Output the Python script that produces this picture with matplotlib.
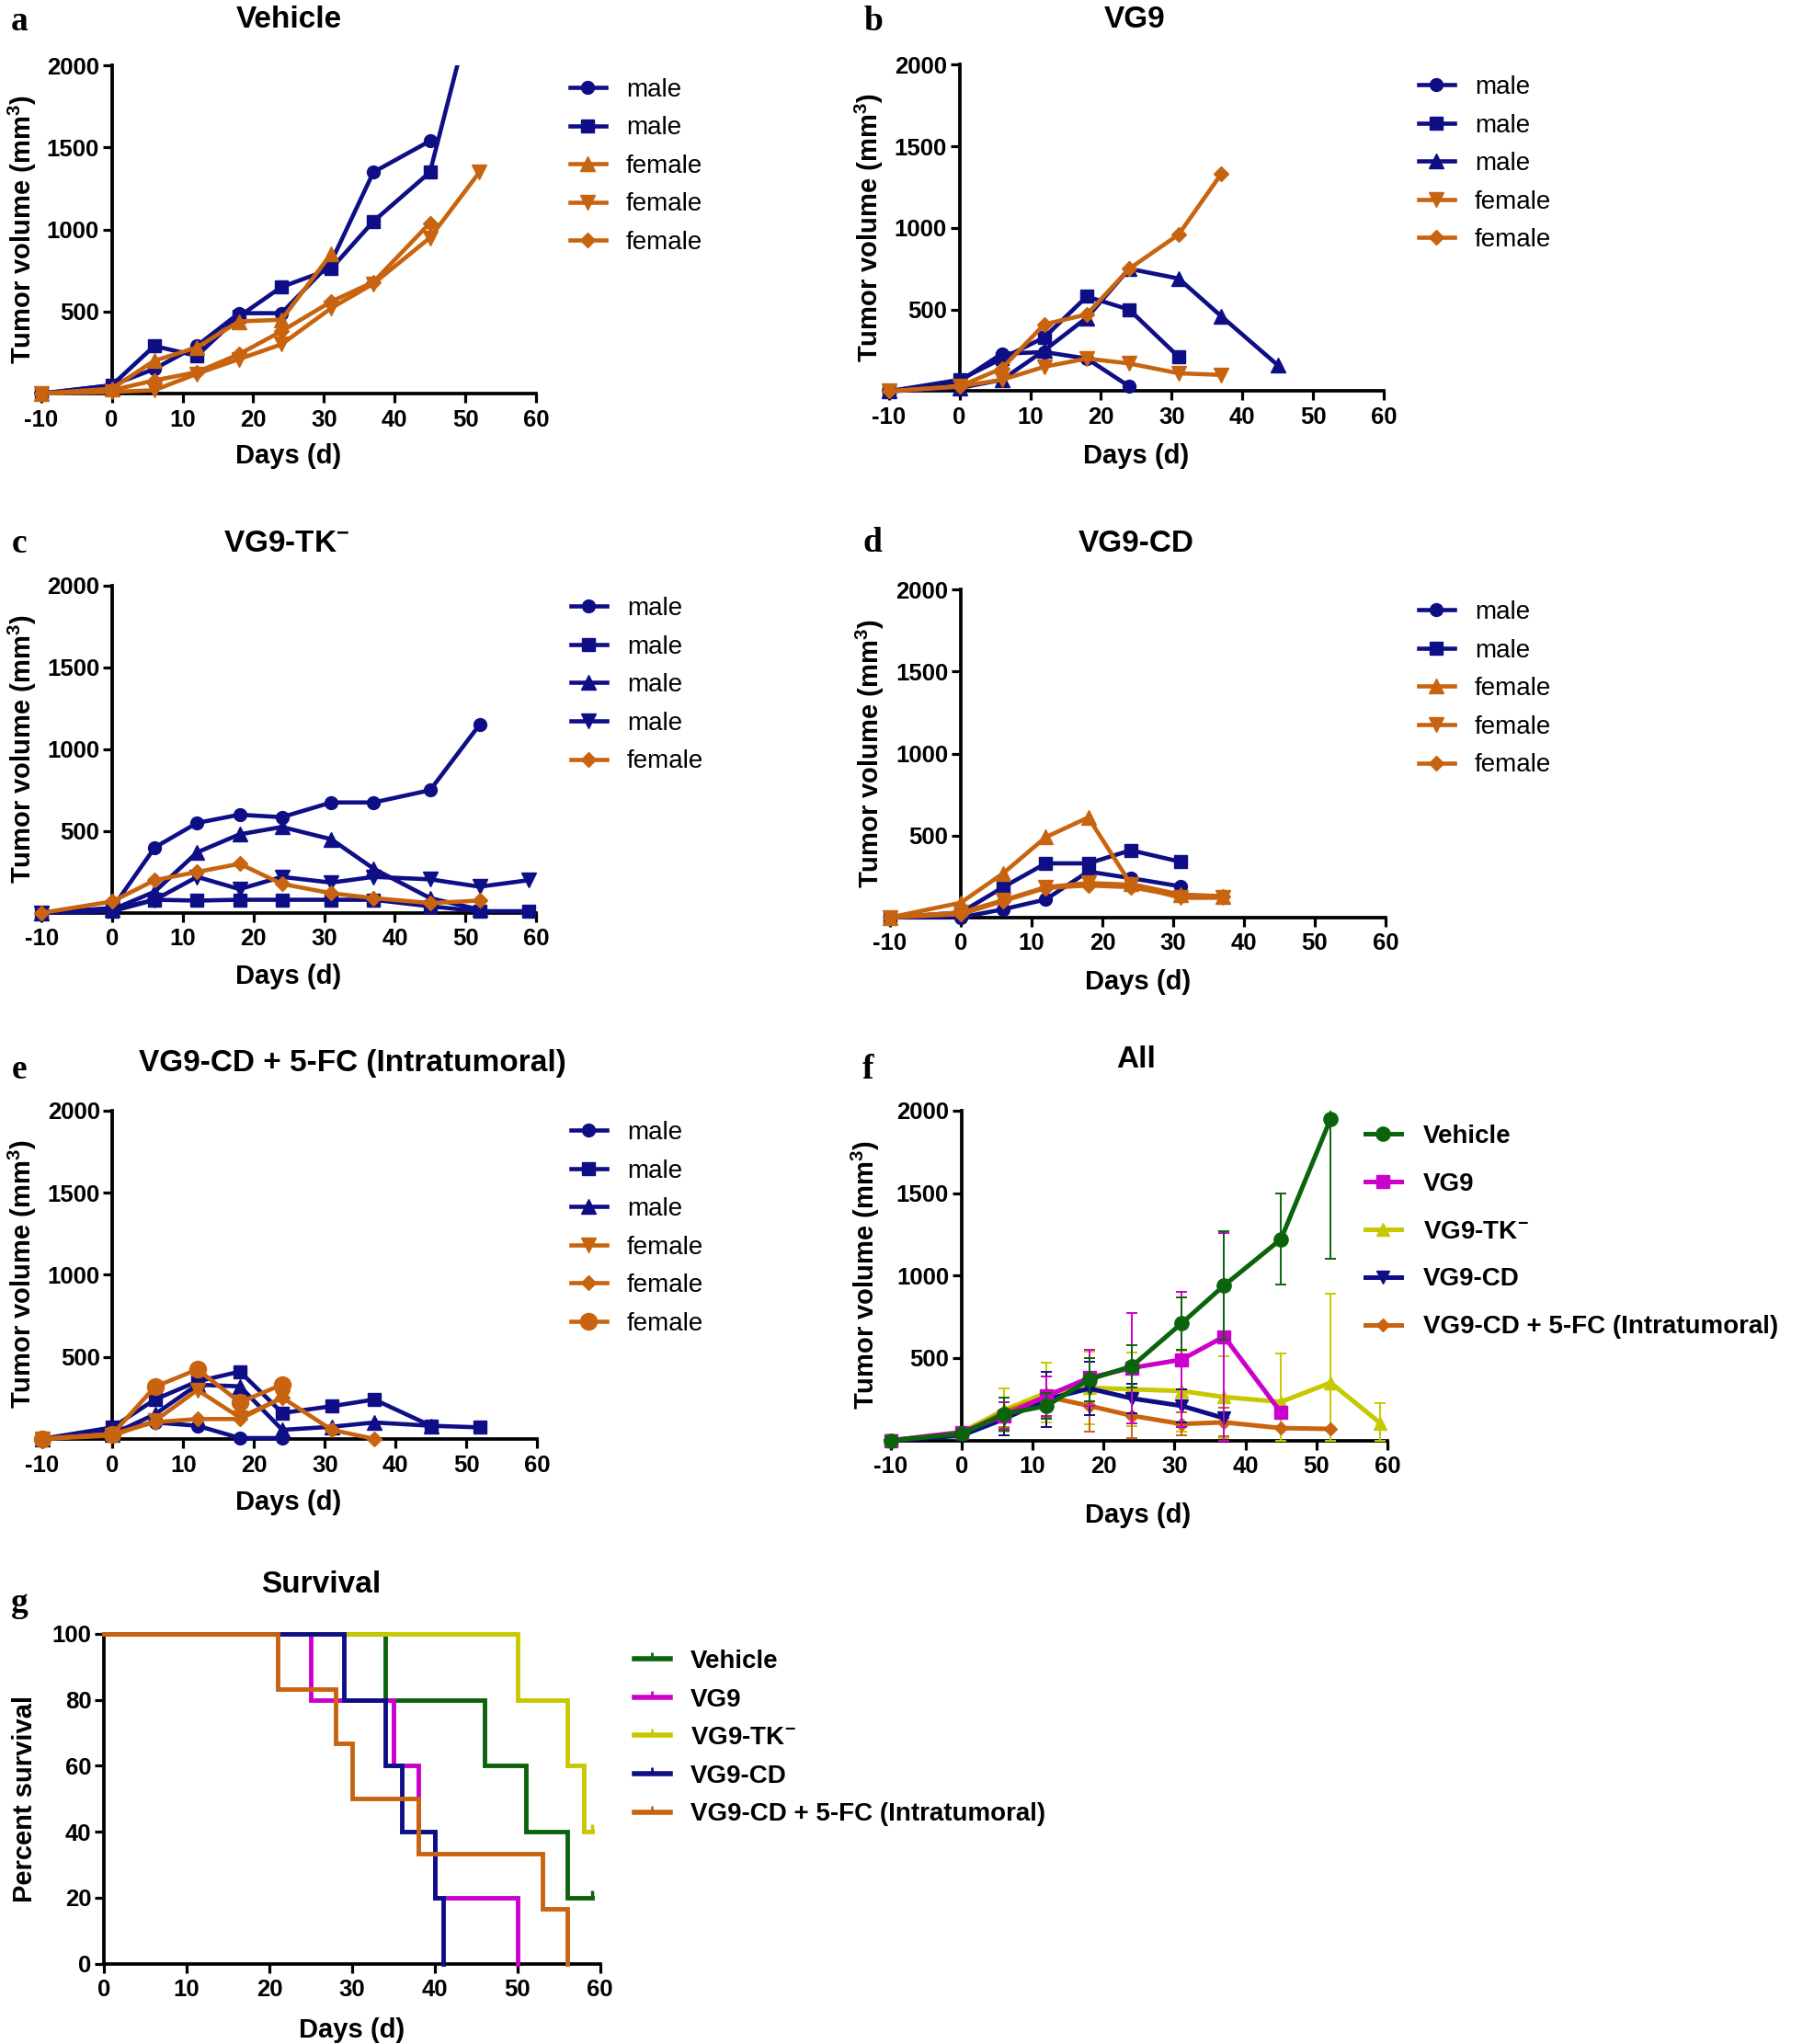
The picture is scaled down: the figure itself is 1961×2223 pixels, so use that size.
import matplotlib
matplotlib.use("Agg")
import matplotlib.pyplot as plt
import numpy as np
from matplotlib.lines import Line2D
from matplotlib.path import Path

W, H = 1961, 2223

NAVY = "#0e0e86"
ORANGE = "#c8640f"
GREEN = "#0b640b"
MAGENTA = "#cc00cc"
YELLOW = "#c8c800"

plt.rcParams["font.family"] = ["Liberation Sans", "DejaVu Sans"]
plt.rcParams["font.weight"] = "bold"
plt.rcParams["axes.unicode_minus"] = False
plt.rcParams["mathtext.fontset"] = "custom"
plt.rcParams["mathtext.rm"] = "Liberation Sans:bold"
plt.rcParams["mathtext.bf"] = "Liberation Sans:bold"
plt.rcParams["mathtext.default"] = "bf"

# --- data ---------------------------------------------------------------
days = [-10, 0, 6, 12, 18, 24, 31, 37, 45, 52, 59]

# a - Vehicle
veh_m1 = [0, 50, 150, 290, 490, 490, 800, 1350, 1540]
veh_m2 = [0, 50, 290, 230, 470, 650, 760, 1050, 1350, 2530]
veh_f1 = [0, 30, 200, 280, 440, 450, 850]
veh_f2 = [0, 10, 20, 120, 210, 300, 520, 670, 950, 1350]
veh_f3 = [0, 20, 80, 130, 240, 380, 560, 680, 1040]

# b - VG9
vg9_m1 = [0, 60, 230, 240, 200, 30]
vg9_m2 = [0, 70, 200, 330, 580, 500, 210]
vg9_m3 = [0, 20, 70, 250, 450, 750, 690, 460, 160]
vg9_f1 = [0, 30, 70, 150, 200, 170, 110, 100]
vg9_f2 = [0, 30, 140, 410, 470, 750, 960, 1330]

# c - VG9-TK-
tk_m1 = [0, 30, 400, 550, 600, 585, 675, 675, 750, 1150]
tk_m2 = [0, 10, 80, 75, 80, 80, 80, 80, 40, 10, 10]
tk_m3 = [0, 20, 130, 370, 480, 525, 450, 270, 90, 20]
tk_m4 = [0, 20, 80, 220, 145, 220, 185, 220, 205, 160, 200]
tk_f1 = [0, 70, 200, 250, 300, 177, 120, 90, 60, 75]

# d - VG9-CD
cd_m1 = [0, 0, 50, 110, 280, 240, 190]
cd_m2 = [0, 30, 185, 330, 330, 410, 340]
cd_f1 = [0, 90, 270, 490, 610, 205, 140, 130]
cd_f2 = [0, 30, 105, 185, 210, 200, 120, 120]
cd_f3 = [0, 20, 100, 180, 195, 185, 130, 130]

# e - VG9-CD + 5-FC
fc_m1 = [0, 50, 100, 80, 5, 5]
fc_m2 = [0, 70, 240, 350, 410, 158, 199, 240, 80, 70]
fc_m3 = [0, 30, 150, 330, 320, 55, 74, 100, 80]
fc_f1 = [0, 20, 110, 298, 130, 250]
fc_f2 = [0, 30, 102, 121, 121, 251, 55, 0]
fc_f3 = [0, 30, 318, 423, 223, 331]

# f - group means and SEM
all_veh_mean = [0, 40, 160, 210, 370, 450, 710, 940, 1220, 1950]
all_veh_sem = [0, 10, 100, 80, 130, 130, 160, 330, 275, 850]
all_vg9_mean = [0, 50, 150, 270, 380, 440, 490, 630, 170]
all_vg9_sem = [0, 15, 80, 120, 170, 335, 410, 630, 0]
all_tk_mean = [0, 50, 185, 290, 320, 310, 300, 263, 234, 350, 105]
all_tk_sem = [0, 10, 130, 182, 220, 225, 245, 246, 294, 542, 120]
all_cd_mean = [0, 30, 130, 250, 315, 255, 210, 135]
all_cd_sem = [0, 10, 100, 166, 160, 90, 100, 0]
all_fc_mean = [0, 40, 170, 265, 210, 150, 100, 110, 75, 70]
all_fc_sem = [0, 10, 90, 123, 154, 137, 70, 87, 0, 0]

# g - survival
surv_veh_t = [0, 34, 46, 51, 56, 59]
surv_veh_s = [100, 80, 60, 40, 20, 20]
surv_vg9_t = [0, 25, 35, 38, 40, 50]
surv_vg9_s = [100, 80, 60, 40, 20, 0]
surv_tk_t = [0, 50, 56, 58, 59]
surv_tk_s = [100, 80, 60, 40, 40]
surv_cd_t = [0, 29, 34, 36, 40, 41]
surv_cd_s = [100, 80, 60, 40, 20, 0]
surv_fc_t = [0, 21, 28, 30, 38, 53, 56]
surv_fc_s = [100, 83.3, 66.7, 50, 33.3, 16.7, 0]
censor_t = [59, 59]
censor_s = [20, 40]

group_names = ["Vehicle", "VG9", "VG9-TK$^{-}$", "VG9-CD", "VG9-CD + 5-FC (Intratumoral)"]

fig = plt.figure(figsize=(W / 100, H / 100), dpi=100)


def fx(px):
    return px / W


def fy(py):
    return 1 - py / H


def style_axis(ax, xb, yb, xticks, yticks):
    for s in ("top", "right"):
        ax.spines[s].set_visible(False)
    ax.spines["left"].set_position(("data", 0))
    ax.spines["bottom"].set_position(("data", 0))
    ax.spines["left"].set_bounds(*yb)
    ax.spines["bottom"].set_bounds(*xb)
    for s in ("left", "bottom"):
        ax.spines[s].set_linewidth(2.7)
        ax.spines[s].set_zorder(1)
    ax.set_xticks(xticks)
    ax.set_yticks(yticks)
    ax.tick_params(axis="both", direction="out", length=7.5, width=2.3,
                   labelsize=18.5)
    ax.tick_params(axis="x", pad=4.5)
    ax.tick_params(axis="y", pad=2.4)
    for lab in ax.get_xticklabels() + ax.get_yticklabels():
        lab.set_fontweight("bold")


def tumor_axes(px):
    # px: pixel x of day -10, pixel x of day 60, pixel y of 0, pixel y of 2000
    xa, xb, y0, yt = px
    xu = (xb - xa) / 70.0
    yu = (y0 - yt) / 2000.0
    lo, hi, ybot = -12.0, 61.0, -80.0
    left = xa + (lo + 10) * xu
    right = xa + (hi + 10) * xu
    bottom = y0 - ybot * yu
    ax = fig.add_axes([fx(left), fy(bottom), (right - left) / W, (bottom - yt) / H])
    ax.set_xlim(lo, hi)
    ax.set_ylim(ybot, 2000)
    ax.patch.set_alpha(0)
    style_axis(ax, (-10.7, 60), (0, 2000), range(-10, 61, 10), [500, 1000, 1500, 2000])
    return ax


def labels(letter, lxy, title, txy, yxy, xlab_xy, ylab_text="Tumor volume (mm$^{3}$)"):
    fig.text(fx(lxy[0]), fy(lxy[1]), letter, family="Liberation Serif",
             weight="bold", size=27, ha="center", va="baseline")
    fig.text(fx(txy[0]), fy(txy[1]), title, size=24, weight="bold",
             ha="center", va="baseline")
    fig.text(fx(yxy[0]), fy(yxy[1]), ylab_text, size=21, weight="bold",
             rotation=90, ha="center", va="center")
    fig.text(fx(xlab_xy[0]), fy(xlab_xy[1]), "Days (d)", size=21,
             weight="bold", ha="center", va="center")


def put_legend(ax, handles, names, x_px, y_px, size, weight, spacing,
               hl=1.4, htp=0.8):
    ax.legend(handles, names, loc="upper left",
              bbox_to_anchor=(fx(x_px), fy(y_px - 12)),
              bbox_transform=fig.transFigure, frameon=False, borderpad=0,
              borderaxespad=0, handlelength=hl, handletextpad=htp,
              labelspacing=spacing, prop={"size": size, "weight": weight})


def mouse_lines(ax, series):
    hs = []
    for vals, col, mk, ms in series:
        h, = ax.plot(days[:len(vals)], vals, color=col, marker=mk, ms=ms,
                     lw=3.3, mec=col, mfc=col, zorder=3)
        hs.append(h)
    return hs


sex_names_a = ["male", "male", "female", "female", "female"]

# a
ax = tumor_axes((44.7, 583, 428, 71.3))
hs = mouse_lines(ax, [(veh_m1, NAVY, "o", 10), (veh_m2, NAVY, "s", 10),
                      (veh_f1, ORANGE, "^", 11), (veh_f2, ORANGE, "v", 11),
                      (veh_f3, ORANGE, "D", 8.5)])
put_legend(ax, hs, sex_names_a, 620, 96.7, 20, "normal", 0.56)
labels("a", (21, 33), "Vehicle", (314, 30), (24, 249.6), (314, 496))

# b
ax = tumor_axes((966.7, 1505, 425.5, 70.3))
hs = mouse_lines(ax, [(vg9_m1, NAVY, "o", 10), (vg9_m2, NAVY, "s", 10),
                      (vg9_m3, NAVY, "^", 11), (vg9_f1, ORANGE, "v", 11),
                      (vg9_f2, ORANGE, "D", 8.5)])
put_legend(ax, hs, ["male", "male", "male", "female", "female"], 1543, 94,
           20, "normal", 0.56)
labels("b", (950, 33), "VG9", (1234, 30), (945, 248), (1236, 496))

# c
ax = tumor_axes((45.5, 583, 992.8, 637))
hs = mouse_lines(ax, [(tk_m1, NAVY, "o", 10), (tk_m2, NAVY, "s", 10),
                      (tk_m3, NAVY, "^", 11), (tk_m4, NAVY, "v", 11),
                      (tk_f1, ORANGE, "D", 8.5)])
put_legend(ax, hs, ["male", "male", "male", "male", "female"], 621, 661,
           20, "normal", 0.56)
labels("c", (21, 601), "VG9-TK$^{-}$", (312, 600), (24, 815), (314, 1062))

# d
ax = tumor_axes((968, 1507, 997.8, 641.3))
hs = mouse_lines(ax, [(cd_m1, NAVY, "o", 10), (cd_m2, NAVY, "s", 10),
                      (cd_f1, ORANGE, "^", 11), (cd_f2, ORANGE, "v", 11),
                      (cd_f3, ORANGE, "D", 8.5)])
put_legend(ax, hs, sex_names_a, 1543, 665, 20, "normal", 0.56)
labels("d", (949, 600), "VG9-CD", (1236, 600), (946, 819.5), (1238, 1068))

# e
ax = tumor_axes((45.5, 584, 1564.9, 1207.8))
hs = mouse_lines(ax, [(fc_m1, NAVY, "o", 10), (fc_m2, NAVY, "s", 10),
                      (fc_m3, NAVY, "^", 11), (fc_f1, ORANGE, "v", 11),
                      (fc_f2, ORANGE, "D", 8.5), (fc_f3, ORANGE, "o", 13)])
put_legend(ax, hs, ["male", "male", "male", "female", "female", "female"],
           621, 1231, 20, "normal", 0.56)
labels("e", (21, 1173), "VG9-CD + 5-FC (Intratumoral)", (383, 1165),
       (24, 1386), (314, 1634))

# f
ax = tumor_axes((968.6, 1509, 1566.6, 1207.8))
f_series = [
    (all_veh_mean, all_veh_sem, GREEN, "o", 11, 6),
    (all_vg9_mean, all_vg9_sem, MAGENTA, "s", 10.5, 5),
    (all_tk_mean, all_tk_sem, YELLOW, "^", 10.5, 2),
    (all_cd_mean, all_cd_sem, NAVY, "v", 10.5, 4),
    (all_fc_mean, all_fc_sem, ORANGE, "D", 7.5, 3),
]
hs = []
for mean, sem, col, mk, ms, z in f_series:
    mean = np.array(mean, dtype=float)
    sem = np.array(sem, dtype=float)
    lower = np.minimum(sem, mean)
    eb = ax.errorbar(days[:len(mean)], mean, yerr=[lower, sem], color=col,
                     marker=mk, ms=ms, lw=3.6, mec=col, mfc=col,
                     elinewidth=1.4, capsize=4.3, capthick=1.4, zorder=z)
    hs.append(eb.lines[0])
put_legend(ax, hs, group_names, 1485, 1235, 20, "bold", 0.93, hl=1.4, htp=0.85)
labels("f", (944, 1173), "All", (1236, 1161), (941, 1387), (1238, 1648))

# g - survival
gx0, gx60, gy0, gy100 = 113, 652.7, 2135.6, 1777
xu = (gx60 - gx0) / 60.0
yu = (gy0 - gy100) / 100.0
glo, ghi, gbot, gtop = -0.6, 61.0, -2.0, 101.5
left = gx0 + glo * xu
right = gx0 + ghi * xu
top = gy0 - gtop * yu
bottom = gy0 - gbot * yu
ax = fig.add_axes([fx(left), fy(bottom), (right - left) / W, (bottom - top) / H])
ax.set_xlim(glo, ghi)
ax.set_ylim(gbot, gtop)
ax.patch.set_alpha(0)
style_axis(ax, (0, 60), (0, 100), range(0, 61, 10), range(0, 101, 20))

CENSOR = Path([(0, 0), (0, 1)])
surv = [
    (surv_veh_t, surv_veh_s, GREEN),
    (surv_vg9_t, surv_vg9_s, MAGENTA),
    (surv_tk_t, surv_tk_s, YELLOW),
    (surv_cd_t, surv_cd_s, NAVY),
    (surv_fc_t, surv_fc_s, ORANGE),
]
for t, s, col in surv:
    ax.step(t, s, where="post", color=col, lw=3.5, zorder=3,
            solid_joinstyle="miter")
ax.plot(censor_t[:1], censor_s[:1], ls="none", marker=CENSOR, ms=12,
        mew=2.5, color=GREEN, zorder=3)
ax.plot(censor_t[1:], censor_s[1:], ls="none", marker=CENSOR, ms=12,
        mew=2.5, color=YELLOW, zorder=3)
g_handles = [Line2D([], [], color=c, lw=4, marker=CENSOR, ms=10, mew=2)
             for _, _, c in surv]
put_legend(ax, g_handles, group_names, 690, 1806, 20, "bold", 0.56,
           hl=1.4, htp=0.8)
labels("g", (21, 1753), "Survival", (349, 1732), (27, 1956), (383, 2208),
       ylab_text="Percent survival")

fig.savefig("out.png", dpi=100, facecolor="white")
